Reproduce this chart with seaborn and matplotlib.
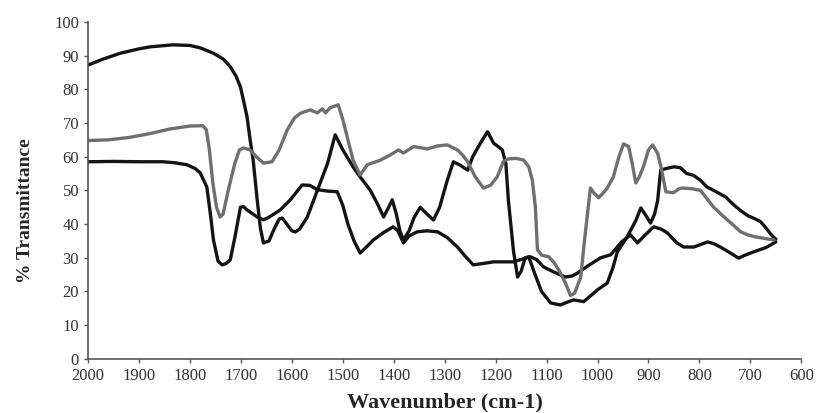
import numpy as np
import pandas as pd
import matplotlib
matplotlib.use("Agg")
import matplotlib.pyplot as plt
import seaborn as sns

# Curve A (black, starts high)
wn_a = [2000, 1970, 1937, 1900, 1878, 1833, 1800, 1780, 1754, 1735, 1721, 1710, 1701, 1694, 1688,
        1682, 1676, 1668, 1662, 1656, 1645, 1635, 1625, 1619, 1610, 1600, 1593, 1585, 1570, 1550,
        1530, 1515, 1500, 1480, 1466, 1446, 1432, 1420, 1410, 1403, 1395, 1388, 1381, 1370, 1360,
        1348, 1335, 1322, 1310, 1295, 1283, 1270, 1255, 1245, 1230, 1216, 1204, 1195, 1187, 1180,
        1175, 1165, 1157, 1150, 1142, 1135, 1125, 1110, 1092, 1073, 1060, 1047, 1027, 1000, 981,
        970, 961, 942, 925, 915, 905, 896, 888, 882, 876, 865, 850, 837, 825, 812, 798, 785, 772,
        760, 748, 735, 719, 705, 690, 680, 670, 660, 650]
tr_a = [87.2, 89, 90.7, 92, 92.6, 93.2, 93, 92.3, 90.7, 89, 86.7, 84, 80.7, 76, 71.8,
        65, 59, 47, 39, 34.4, 35, 38.5, 41.5, 41.8, 40, 38, 37.7, 38.5, 42, 50,
        58, 66.5, 62, 57, 54, 50, 46, 42.1, 45, 47.2, 43, 38, 35.3, 38, 42,
        45, 43, 41.2, 45, 53, 58.5, 57.5, 56, 60, 64, 67.4, 64, 63, 62, 58,
        47, 32, 24.3, 26, 30, 30.3, 26, 20, 16.6, 16, 16.8, 17.5, 17, 20.5, 22.5,
        27, 31.8, 36.2, 41, 44.8, 42.5, 40.3, 43, 47, 56, 56.5, 57, 56.7, 55, 54.5, 53, 51, 50,
        49, 48, 46, 44, 42.5, 41.5, 40.7, 39, 37, 35.5]

# Curve B (grey)
wn_b = [2000, 1960, 1920, 1880, 1840, 1800, 1775, 1768, 1762, 1755, 1748, 1741, 1735, 1725, 1712,
        1703, 1695, 1682, 1670, 1656, 1639, 1625, 1609, 1595, 1583, 1564, 1550, 1540, 1534, 1525,
        1509, 1500, 1490, 1480, 1466, 1452, 1426, 1407, 1391, 1381, 1361, 1334, 1314, 1295, 1275,
        1265, 1255, 1240, 1224, 1210, 1197, 1185, 1177, 1160, 1145, 1135, 1128, 1122, 1118, 1110,
        1096, 1085, 1076, 1063, 1053, 1045, 1033, 1025, 1014, 1006, 998, 990, 981, 969, 958, 949,
        939, 932, 925, 918, 910, 900, 892, 882, 874, 866, 851, 840, 833, 815, 798, 785, 772, 758,
        745, 732, 719, 705, 690, 670, 654]
tr_b = [64.8, 65, 65.7, 66.8, 68.2, 69.1, 69.2, 68, 62, 52, 45, 42.1, 43, 50, 58,
        62, 62.6, 62, 60, 58.1, 58.5, 62, 68, 71.5, 72.9, 73.9, 73, 74.2, 73, 74.5,
        75.4, 71, 65, 59, 54.6, 57.6, 59, 60.5, 62, 61.1, 63, 62.3, 63.2, 63.5, 62,
        60.5, 58.5, 54, 50.7, 51.5, 54, 58.5, 59.3, 59.5, 59, 57, 53, 45, 32.4, 30.8,
        30.3, 28.5, 26.4, 22.5, 18.8, 19.5, 24.3, 36, 50.7, 49, 47.8, 49, 50.7, 54, 60, 63.8,
        63, 58, 52.2, 54, 57, 62, 63.5, 61, 56, 49.6, 49.3, 50.5, 50.7, 50.5, 50, 47.5, 45, 43,
        41.2, 39.5, 37.7, 36.8, 36.2, 35.7, 35.3]

# Curve C (black, starts lower)
wn_c = [2000, 1950, 1900, 1853, 1830, 1806, 1790, 1780, 1767, 1760, 1754, 1745, 1737, 1729, 1721,
        1712, 1701, 1695, 1688, 1668, 1656, 1648, 1635, 1623, 1603, 1580, 1565, 1550, 1530, 1511,
        1500, 1490, 1478, 1466, 1455, 1440, 1420, 1401, 1392, 1381, 1370, 1354, 1335, 1314, 1295,
        1275, 1260, 1244, 1225, 1204, 1165, 1150, 1132, 1120, 1106, 1086, 1063, 1050, 1039, 1020,
        994, 974, 953, 935, 922, 905, 890, 875, 863, 845, 831, 811, 784, 772, 759, 740, 723, 710,
        693, 670, 650]
tr_c = [58.5, 58.6, 58.5, 58.5, 58.2, 57.6, 56.5, 55.2, 51, 43, 35.3, 29, 27.9, 28.3, 29.4,
        36, 45, 45.2, 44.2, 42.1, 41.3, 41.8, 43, 44.2, 47.2, 51.6, 51.5, 50.2, 49.8, 49.6,
        45.5, 40, 35, 31.4, 33, 35.3, 37.5, 39.2, 38, 34.4, 36.5, 37.7, 38, 37.7, 36,
        33.2, 30.5, 27.9, 28.3, 28.8, 28.8, 29.5, 30.3, 29.5, 27.3, 25.8, 24.3, 24.6, 25.5, 27.5,
        30, 30.9, 34.7, 36.8, 34.4, 37, 39.2, 38.5, 37.4, 34.5, 33.2, 33.2, 34.7, 34.2, 33.2, 31.5, 29.9, 30.8,
        31.8, 33, 34.7]

x_ticks = list(range(2000, 599, -100))
y_ticks = list(range(0, 101, 10))

sns.set_style("ticks")
plt.rcParams['font.family'] = ['Liberation Serif', 'DejaVu Serif']

fig = plt.figure(figsize=(8.16, 4.13), dpi=100)
ax = fig.add_axes([0.108, 0.131, 0.874, 0.816])

black = "#141414"
grey = "#6f6f6f"
sns.lineplot(x=wn_a, y=tr_a, ax=ax, color=black, lw=2.4, sort=False, estimator=None)
sns.lineplot(x=wn_c, y=tr_c, ax=ax, color=black, lw=2.4, sort=False, estimator=None)
sns.lineplot(x=wn_b, y=tr_b, ax=ax, color=grey, lw=2.4, sort=False, estimator=None)
for line in ax.get_lines():
    line.set_solid_joinstyle('round')

ax.set_xlim(2000, 600)
ax.set_ylim(0, 100)
ax.set_xticks(x_ticks)
ax.set_yticks(y_ticks)
ax.tick_params(axis='both', labelsize=12, length=3, width=1, color="#555555", labelcolor="#333333")
for s in ['top', 'right']:
    ax.spines[s].set_visible(False)
for s in ['left', 'bottom']:
    ax.spines[s].set_color("#555555")
    ax.spines[s].set_linewidth(1.2)

ax.set_xlabel("Wavenumber (cm-1)", fontsize=16, fontweight='bold', labelpad=6)
ax.set_ylabel("% Transmittance", fontsize=14, fontweight='bold')
ax.yaxis.set_label_coords(-0.076, 0.44)

fig.savefig("out.png", dpi=100)
